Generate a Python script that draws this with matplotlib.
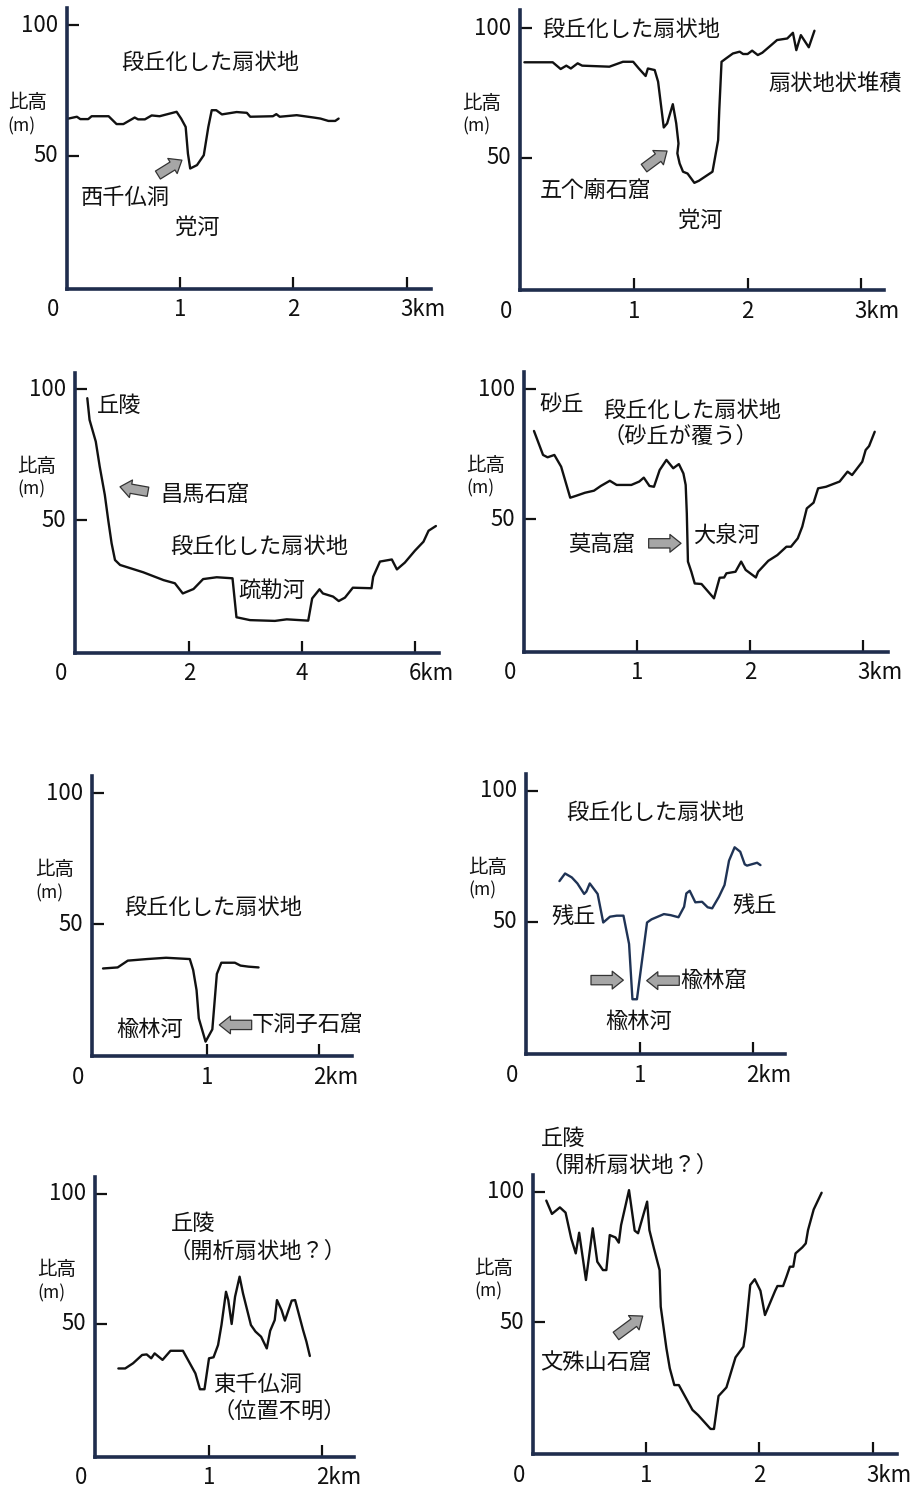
import matplotlib
matplotlib.use("Agg")
import matplotlib.pyplot as plt

plt.rcParams["font.family"] = ["Noto Sans CJK JP", "DejaVu Sans"]

W, H = 912, 1489
SPINE = "#1f2d4d"
INK = "#111111"
NAVY_LINE = "#1f3355"
ARROW_FC = "#a6a6a6"
ARROW_EC = "#333333"
FS = 16

# ---- cross-section profiles: distance (km), relative height (m) ----
xiqian_km = [0.015, 0.09, 0.12, 0.19, 0.22, 0.37, 0.44, 0.50, 0.60, 0.63, 0.69, 0.75,
             0.82, 0.97, 1.01, 1.05, 1.07, 1.09, 1.15, 1.21, 1.25, 1.28, 1.32, 1.37,
             1.50, 1.59, 1.62, 1.82, 1.85, 1.88, 2.03, 2.18, 2.24, 2.31, 2.37, 2.40]
xiqian_m = [64.2, 64.9, 64.0, 64.0, 65.1, 65.1, 62.1, 62.1, 64.6, 63.9, 63.9, 65.4,
            65.1, 66.8, 64.2, 61.0, 50.8, 45.1, 46.4, 50.2, 61.0, 67.4, 67.4, 65.8,
            66.7, 66.4, 64.9, 65.1, 65.9, 64.9, 65.5, 64.6, 64.2, 63.3, 63.3, 64.2]

wugemiao_km = [0.03, 0.28, 0.35, 0.40, 0.44, 0.50, 0.54, 0.78, 0.90, 0.99, 1.04, 1.10,
               1.12, 1.18, 1.21, 1.26, 1.29, 1.34, 1.37, 1.39, 1.38, 1.40, 1.43, 1.47,
               1.53, 1.57, 1.69, 1.74, 1.75, 1.77, 1.81, 1.87, 1.93, 1.96, 2.00, 2.04,
               2.09, 2.13, 2.21, 2.26, 2.35, 2.40, 2.43, 2.47, 2.54, 2.59]
wugemiao_m = [86.9, 86.9, 84.3, 85.6, 84.5, 86.5, 85.6, 85.2, 87.1, 87.1, 84.5, 81.6,
              84.5, 83.9, 79.4, 61.7, 63.3, 70.7, 63.3, 55.5, 51.7, 47.8, 44.6, 43.9,
              40.3, 41.1, 44.6, 56.8, 68.4, 87.1, 88.4, 90.3, 91.0, 90.1, 90.1, 91.4,
              89.7, 90.6, 93.6, 95.5, 96.1, 98.3, 91.6, 97.4, 92.7, 99.1]

changma_km = [0.20, 0.24, 0.35, 0.42, 0.51, 0.57, 0.63, 0.69, 0.78, 1.19, 1.55, 1.75,
              1.89, 2.08, 2.25, 2.49, 2.77, 2.84, 3.08, 3.52, 3.73, 4.11, 4.18, 4.31,
              4.37, 4.55, 4.65, 4.76, 4.90, 5.23, 5.26, 5.38, 5.59, 5.68, 5.82, 6.00,
              6.15, 6.24, 6.37]
changma_m = [96.6, 88.3, 80.0, 70.4, 59.6, 50.0, 41.1, 34.7, 32.8, 30.0, 27.0, 25.8,
             21.9, 23.6, 27.4, 28.1, 27.7, 12.8, 11.7, 11.4, 12.0, 11.5, 20.0, 23.5,
             21.9, 20.7, 19.0, 20.3, 24.1, 23.9, 28.3, 34.1, 34.9, 31.1, 33.7, 38.3,
             41.7, 45.9, 47.7]

mogao_km = [0.09, 0.17, 0.21, 0.27, 0.33, 0.41, 0.46, 0.54, 0.62, 0.68, 0.76, 0.82,
            0.95, 1.02, 1.06, 1.11, 1.15, 1.20, 1.26, 1.32, 1.37, 1.41, 1.43, 1.44,
            1.45, 1.48, 1.51, 1.57, 1.68, 1.73, 1.77, 1.79, 1.87, 1.92, 1.96, 2.05,
            2.07, 2.16, 2.24, 2.32, 2.36, 2.42, 2.46, 2.50, 2.56, 2.60, 2.67, 2.79,
            2.86, 2.90, 2.99, 3.02, 3.05, 3.10]
mogao_m = [83.9, 74.7, 73.8, 74.7, 70.2, 58.3, 59.0, 60.2, 61.0, 62.8, 64.8, 63.2,
           63.2, 64.5, 66.0, 62.8, 62.5, 68.9, 72.8, 69.6, 71.2, 67.6, 63.2, 52.3,
           33.8, 29.9, 25.4, 25.2, 19.7, 27.6, 27.7, 29.3, 29.9, 33.8, 30.6, 27.7,
           29.9, 34.1, 36.3, 39.5, 39.5, 42.7, 47.2, 54.2, 56.4, 61.9, 62.5, 64.5,
           68.3, 67.0, 72.1, 76.6, 78.1, 83.6]

xiadongzi_km = [0.08, 0.21, 0.30, 0.47, 0.64, 0.85, 0.88, 0.91, 0.93, 0.99, 1.05,
                1.09, 1.13, 1.25, 1.30, 1.37, 1.46]
xiadongzi_m = [33.0, 33.4, 36.0, 36.6, 37.1, 36.6, 32.4, 24.7, 13.9, 5.0, 9.7,
               30.9, 35.2, 35.2, 34.1, 33.7, 33.4]

yulin_km = [0.28, 0.33, 0.39, 0.44, 0.50, 0.52, 0.55, 0.62, 0.67, 0.73, 0.79, 0.85,
            0.90, 0.93, 0.97, 1.06, 1.10, 1.21, 1.27, 1.34, 1.39, 1.41, 1.44, 1.49,
            1.55, 1.60, 1.64, 1.70, 1.75, 1.79, 1.84, 1.89, 1.93, 1.95, 2.04, 2.07]
yulin_m = [65.5, 68.4, 66.9, 64.6, 60.6, 61.5, 64.6, 60.6, 49.7, 51.9, 52.3, 52.3,
           41.5, 20.4, 20.4, 49.7, 50.9, 52.9, 52.5, 51.7, 55.7, 60.8, 61.8, 57.4,
           57.6, 55.5, 55.1, 59.5, 64.0, 73.3, 78.4, 76.7, 71.9, 71.4, 72.5, 71.6]

dongqian_km = [0.20, 0.26, 0.33, 0.41, 0.45, 0.49, 0.52, 0.59, 0.66, 0.77, 0.88, 0.92,
               0.96, 1.00, 1.04, 1.08, 1.11, 1.15, 1.17, 1.20, 1.23, 1.27, 1.30, 1.37,
               1.41, 1.46, 1.51, 1.54, 1.58, 1.60, 1.64, 1.67, 1.73, 1.76, 1.83, 1.86,
               1.89]
dongqian_m = [32.9, 32.9, 34.9, 38.1, 38.3, 36.8, 38.7, 36.2, 39.7, 39.7, 31.0, 24.9,
              24.9, 36.8, 37.2, 41.9, 49.6, 62.4, 59.2, 50.0, 60.5, 68.2, 61.8, 49.6,
              47.1, 45.1, 40.6, 47.4, 51.5, 59.2, 55.4, 51.3, 59.0, 59.2, 47.7, 43.2,
              37.7]

wenshu_km = [0.12, 0.17, 0.24, 0.29, 0.34, 0.38, 0.41, 0.47, 0.53, 0.57, 0.62, 0.65,
             0.68, 0.73, 0.76, 0.78, 0.85, 0.90, 0.93, 1.01, 1.03, 1.07, 1.12, 1.13,
             1.18, 1.21, 1.25, 1.29, 1.41, 1.46, 1.57, 1.60, 1.64, 1.71, 1.79, 1.86,
             1.88, 1.92, 1.96, 2.01, 2.05, 2.14, 2.16, 2.21, 2.24, 2.27, 2.30, 2.32,
             2.38, 2.41, 2.43, 2.48, 2.55]
wenshu_m = [96.6, 91.5, 94.0, 92.0, 82.1, 76.4, 84.3, 66.2, 86.0, 73.2, 70.0, 70.0,
            83.4, 82.5, 80.5, 87.2, 100.6, 85.1, 84.1, 96.2, 85.3, 78.3, 70.0, 56.0,
            40.1, 32.4, 26.0, 26.0, 16.5, 14.5, 9.2, 9.2, 21.8, 25.1, 36.6, 40.7,
            46.8, 64.3, 66.5, 62.1, 52.8, 62.1, 63.9, 63.9, 67.5, 71.3, 71.3, 76.4,
            78.7, 80.2, 85.3, 93.2, 99.6]

y_ticks = [50, 100]
y_tick_labels = ["100", "50"]

fig = plt.figure(figsize=(W / 100, H / 100), dpi=100)
fig.patch.set_facecolor("white")


def make_panel(frame, scale, xticks, xlabels):
    """frame = (left, bottom, right, top) in pixels; scale = (x0, px/km, y0, px/m)."""
    L, B, R, T = frame
    x0, pxkm, y0, pxm = scale
    ax = fig.add_axes([L / W, 1 - B / H, (R - L) / W, (B - T) / H])
    ax.patch.set_alpha(0)
    ax.set_xlim((L - x0) / pxkm, (R - x0) / pxkm)
    ax.set_ylim((y0 - B) / pxm, (y0 - T) / pxm)
    for side in ("top", "right"):
        ax.spines[side].set_visible(False)
    for side in ("left", "bottom"):
        ax.spines[side].set_color(SPINE)
        ax.spines[side].set_linewidth(2.6)
        ax.spines[side].set_capstyle("projecting")
    ax.set_yticks(y_ticks)
    ax.set_xticks(xticks)
    ax.tick_params(direction="in", length=8.5, width=1.6, color=INK,
                   labelleft=False, labelbottom=False)
    xmin, ymin = ax.get_xlim()[0], ax.get_ylim()[0]
    for v, s in zip([100, 50], y_tick_labels):
        ax.annotate(s, xy=(xmin, v), xytext=(-9, 0), textcoords="offset pixels",
                    ha="right", va="center", fontsize=FS, color=INK,
                    annotation_clip=False)
    ax.annotate("0", xy=(xmin, ymin), xytext=(-14, -21), textcoords="offset pixels",
                ha="center", va="center", fontsize=FS, color=INK, annotation_clip=False)
    for t, s in zip(xticks, xlabels):
        if s.endswith("km"):
            ax.annotate(s, xy=(t, ymin), xytext=(-6.5, -21), textcoords="offset pixels",
                        ha="left", va="center", fontsize=FS, color=INK,
                        annotation_clip=False)
        else:
            ax.annotate(s, xy=(t, ymin), xytext=(0, -21), textcoords="offset pixels",
                        ha="center", va="center", fontsize=FS, color=INK,
                        annotation_clip=False)
    return ax


def ylabel(ax, x, y_top, y_bot):
    ax.text(x, y_top, "比高", fontsize=14, ha="left", va="center", color=INK, clip_on=False)
    ax.text(x, y_bot, "(m)", fontsize=12.5, ha="left", va="center", color=INK, clip_on=False)


def label(ax, x, y, s, ha="center"):
    ax.text(x, y, s, fontsize=FS, ha=ha, va="center", color=INK, clip_on=False)


def block_arrow(ax, tail, head):
    ax.annotate("", xy=head, xytext=tail, annotation_clip=False,
                arrowprops=dict(arrowstyle="simple,head_length=0.5,head_width=0.8,tail_width=0.42",
                                mutation_scale=16, fc=ARROW_FC, ec=ARROW_EC, lw=0.9,
                                shrinkA=0, shrinkB=0))


def profile(ax, x, y, color=INK):
    ax.plot(x, y, color=color, lw=1.7, solid_joinstyle="round", solid_capstyle="round",
            clip_on=False)


# 西千仏洞
ax = make_panel((66.7, 288.7, 430.7, 8), (66.7, 113.3, 286.4, 2.614), [1, 2, 3], ["1", "2", "3km"])
profile(ax, xiqian_km, xiqian_m)
label(ax, 1.265, 85.5, "段丘化した扇状地")
label(ax, 0.52, 34.2, "西千仏洞")
label(ax, 1.15, 22.7, "党河")
block_arrow(ax, (0.805, 42.6), (1.017, 48.3))
ylabel(ax, -0.52, 70.5, 61.4)

# 五个廟石窟
ax = make_panel((520, 290, 884.3, 10), (521, 113.3, 287.1, 2.587), [1, 2, 3], ["1", "2", "3km"])
profile(ax, wugemiao_km, wugemiao_m)
label(ax, 0.975, 99.7, "段丘化した扇状地")
label(ax, 2.77, 78.8, "扇状地状堆積")
label(ax, 0.653, 37.3, "五个廟石窟")
label(ax, 1.58, 25.9, "党河")
block_arrow(ax, (1.086, 46.0), (1.289, 52.6))
ylabel(ax, -0.515, 70.8, 62.0)

# 昌馬石窟
ax = make_panel((75, 652.7, 439.3, 372.7), (76, 56.5, 650.7, 2.614), [2, 4, 6], ["2", "4", "6km"])
profile(ax, changma_km, changma_m)
label(ax, 0.366, 94.0, "丘陵", ha="left")
label(ax, 2.28, 59.9, "昌馬石窟")
block_arrow(ax, (1.274, 60.8), (0.779, 62.7))
label(ax, 3.24, 39.8, "段丘化した扇状地")
label(ax, 3.47, 23.2, "疏勒河")
ylabel(ax, -1.044, 70.4, 61.9)

# 莫高窟
ax = make_panel((523.7, 651.7, 888.3, 371.7), (523.8, 113.2, 649.7, 2.607), [1, 2, 3], ["1", "2", "3km"])
profile(ax, mogao_km, mogao_m)
label(ax, 0.134, 93.9, "砂丘", ha="left")
label(ax, 1.486, 91.7, "段丘化した扇状地")
label(ax, 1.38, 81.7, "（砂丘が覆う）")
label(ax, 1.786, 44.0, "大泉河")
label(ax, 0.686, 40.5, "莫高窟")
block_arrow(ax, (1.103, 40.8), (1.389, 40.8))
ylabel(ax, -0.51, 70.8, 62.0)

# 下洞子石窟
ax = make_panel((91.7, 1056, 351.7, 776), (94, 112.7, 1054.7, 2.613), [1, 2], ["1", "2km"])
profile(ax, xiadongzi_km, xiadongzi_m)
label(ax, 1.056, 56.4, "段丘化した扇状地")
label(ax, 0.497, 9.5, "楡林河")
label(ax, 1.896, 11.4, "下洞子石窟")
block_arrow(ax, (1.399, 11.4), (1.112, 11.4))
ylabel(ax, -0.523, 71.0, 61.9)

# 楡林窟
ax = make_panel((526, 1054, 785.3, 774), (528, 112.3, 1052.7, 2.62), [1, 2], ["1", "2km"])
profile(ax, yulin_km, yulin_m, color=NAVY_LINE)
label(ax, 1.137, 91.6, "段丘化した扇状地")
label(ax, 0.407, 51.9, "残丘")
label(ax, 2.019, 56.4, "残丘")
block_arrow(ax, (0.561, 27.7), (0.849, 27.7))
block_arrow(ax, (1.347, 27.5), (1.057, 27.5))
label(ax, 1.656, 27.7, "楡林窟")
label(ax, 0.988, 11.8, "楡林河")
ylabel(ax, -0.528, 70.8, 61.8)

# 東千仏洞
ax = make_panel((95, 1456.7, 354, 1176.7), (95.7, 113.3, 1454, 2.6), [1, 2], ["1", "2km"])
profile(ax, dongqian_km, dongqian_m)
label(ax, 0.662, 88.5, "丘陵", ha="left")
label(ax, 1.428, 77.8, "（開析扇状地？）")
label(ax, 1.035, 26.8, "東千仏洞", ha="left")
label(ax, 1.624, 16.3, "（位置不明）")
ylabel(ax, -0.515, 70.8, 61.8)

# 文殊山石窟
ax = make_panel((532.7, 1454.3, 896.7, 1175), (532.7, 113.3, 1453, 2.613), [1, 2, 3], ["1", "2", "3km"])
profile(ax, wenshu_km, wenshu_m)
label(ax, 0.073, 120.4, "丘陵", ha="left")
label(ax, 0.853, 110.2, "（開析扇状地？）")
label(ax, 0.559, 34.6, "文殊山石窟")
block_arrow(ax, (0.735, 44.8), (0.971, 52.4))
ylabel(ax, -0.515, 70.7, 61.7)

fig.savefig("out.png", dpi=100, facecolor="white")
